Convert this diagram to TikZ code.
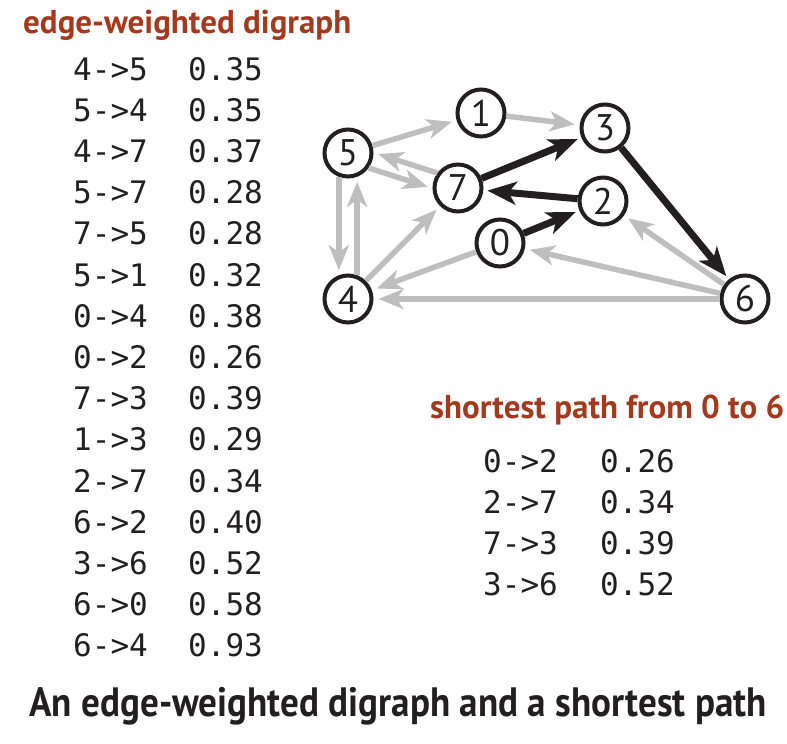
\documentclass[tikz,border=0pt]{standalone}
\usepackage{fontspec}
\setmainfont{PT Sans}
\newfontfamily\monofnt{DejaVu Sans Mono}
\newfontfamily\capfnt[FakeStretch=0.905]{PT Sans}
\usetikzlibrary{arrows.meta}
\definecolor{titlered}{RGB}{163,58,30}
\definecolor{edgegray}{RGB}{190,190,190}
\definecolor{ink}{RGB}{35,31,32}
\tikzset{
  vtx/.style={circle,draw=ink,line width=4pt,minimum size=47pt,inner sep=0pt,fill=white,
    font=\fontsize{37}{37}\selectfont,text=ink},
  gedge/.style={draw=edgegray,line width=5.5pt,shorten >=5pt,
    -{Stealth[length=25pt,width=20pt,inset=7pt]}},
  bedge/.style={draw=ink,line width=7pt,shorten >=4pt,
    -{Stealth[length=29pt,width=23pt,inset=8pt]}},
  ttl/.style={anchor=base west,inner sep=0pt,text=titlered,font=\fontsize{33}{33}\selectfont\bfseries},
  mono/.style={anchor=base west,inner sep=0pt,text=ink,font=\monofnt\fontsize{31}{31}\selectfont},
}
\begin{document}
\begin{tikzpicture}[x=1pt,y=-1pt]
\useasboundingbox (0,0) rectangle (787,744);
% titles
\node[ttl] (t1) at (23,33) {edge-weighted digraph};
\node[ttl] (t2) at (430,418) {shortest path from 0 to 6};
\node[anchor=base,inner sep=0pt,text=ink,font=\capfnt\fontsize{41}{41}\selectfont\bfseries] (cap) at (398,716) {An edge-weighted digraph and a shortest path};
% edge table
\foreach \p/\w [count=\i from 0] in {4->5/0.35,5->4/0.35,4->7/0.37,5->7/0.28,7->5/0.28,5->1/0.32,0->4/0.38,0->2/0.26,7->3/0.39,1->3/0.29,2->7/0.34,6->2/0.40,3->6/0.52,6->0/0.58,6->4/0.93}{
  \node[mono] (p\i) at (73,80+41.2*\i) {\p};
  \node[mono] (w\i) at (188,80+41.2*\i) {\w};
}
\foreach \p/\w [count=\i from 0] in {0->2/0.26,2->7/0.34,7->3/0.39,3->6/0.52}{
  \node[mono] (sp\i) at (483,472+41*\i) {\p};
  \node[mono] (sw\i) at (600,472+41*\i) {\w};
}
% vertices
\node[vtx] (v5) at (348,153) {5};
\node[vtx] (v1) at (481,113) {1};
\node[vtx] (v3) at (605,128) {3};
\node[vtx] (v7) at (458,188) {7};
\node[vtx] (v2) at (603,201) {2};
\node[vtx] (v0) at (500,243) {0};
\node[vtx] (v4) at (348,299) {4};
\node[vtx] (v6) at (745,299) {6};
% gray edges
\draw[gedge] (v5) -- (v1);
\draw[gedge] (v1) -- (v3);
\draw[gedge] (v5.-36) -- (v7.181);
\draw[gedge] (v7.144) -- (v5.1);
\draw[gedge] (v5.249) -- (v4.111);
\draw[gedge] (v4.69) -- (v5.291);
\draw[gedge] (v4) -- (v7);
\draw[gedge] (v0) -- (v4);
\draw[gedge] (v6) -- (v2);
\draw[gedge] (v6) -- (v0);
\draw[gedge] (v6) -- (v4);
% black edges
\draw[bedge] (v0) -- (v2);
\draw[bedge] (v2) -- (v7);
\draw[bedge] (v7) -- (v3);
\draw[bedge] (v3) -- (v6);
\end{tikzpicture}
\end{document}
